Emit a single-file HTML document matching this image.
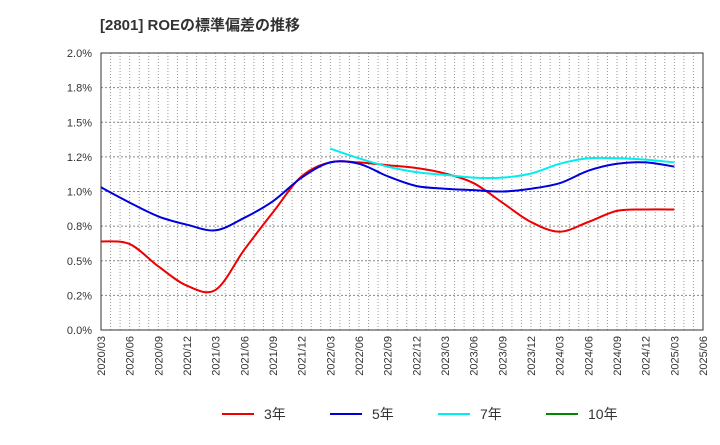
<!DOCTYPE html>
<html><head><meta charset="utf-8"><style>
body{margin:0;background:#fff;font-family:"Liberation Sans","Noto Sans CJK JP",sans-serif}
svg text{font-family:"Liberation Sans","Noto Sans CJK JP",sans-serif}
</style></head><body>
<svg id="c" width="720" height="440">
<text x="100" y="30" font-size="15" font-weight="bold" fill="#333">[2801]  ROEの標準偏差の推移</text>
<g id="grid"></g><g id="axes"></g><g id="series"></g><g id="legend"></g>
</svg>
<script>
const xLabels=["2020/03","2020/06","2020/09","2020/12","2021/03","2021/06","2021/09","2021/12","2022/03","2022/06","2022/09","2022/12","2023/03","2023/06","2023/09","2023/12","2024/03","2024/06","2024/09","2024/12","2025/03","2025/06"];
const yTicks=[0,0.25,0.5,0.75,1.0,1.25,1.5,1.75,2.0];
const yTickLabels=["0.0%","0.2%","0.5%","0.8%","1.0%","1.2%","1.5%","1.8%","2.0%"];
const s3=[0.64,0.62,0.46,0.32,0.29,0.58,0.85,1.11,1.21,1.21,1.19,1.17,1.13,1.06,0.92,0.78,0.71,0.78,0.86,0.87,0.87];
const s5=[1.03,0.92,0.82,0.76,0.72,0.81,0.93,1.10,1.21,1.20,1.11,1.04,1.02,1.01,1.00,1.02,1.06,1.15,1.20,1.21,1.18];
const s7=[null,null,null,null,null,null,null,null,1.31,1.24,1.18,1.14,1.12,1.10,1.10,1.13,1.20,1.24,1.24,1.23,1.21];
const s10=[];
const X0=101,X1=703,Y0=330,Y1=53;
const xs=i=>X0+(X1-X0)*i/(xLabels.length-1);
const ys=v=>Y0-(Y0-Y1)*v/2.0;
const NS="http://www.w3.org/2000/svg";
function mk(p,t,a){const e=document.createElementNS(NS,t);for(const k in a)e.setAttribute(k,a[k]);p.appendChild(e);return e;}
const grid=document.getElementById('grid'),axes=document.getElementById('axes'),ser=document.getElementById('series'),leg=document.getElementById('legend');
const nMonths=(xLabels.length-1)*3;
for(let m=1;m<nMonths;m++){const x=X0+(X1-X0)*m/nMonths;
const l=mk(grid,'line',{x1:x,x2:x,y1:Y1,y2:Y0,stroke:'#999','stroke-dasharray':'1,2','stroke-width':1});
}
yTicks.forEach((v,i)=>{const y=ys(v);
const l=mk(grid,'line',{x1:X0,x2:X1,y1:y,y2:y,stroke:'#888','stroke-dasharray':'2,2','stroke-width':1});

const t=mk(axes,'text',{x:92,y:y+4,'font-size':11,fill:'#333','text-anchor':'end'});t.textContent=yTickLabels[i];
});
const fr=mk(axes,'rect',{x:X0,y:Y1,width:X1-X0,height:Y0-Y1,fill:'none',stroke:'#333','stroke-width':1});

xLabels.forEach((lb,i)=>{const x=xs(i);
const t=mk(axes,'text',{x:x+4,y:Y0+6,'font-size':11,fill:'#333','text-anchor':'end',transform:`rotate(-90 ${x+4} ${Y0+6})`});t.textContent=lb;
});
function line(d,color,name){const P=[];d.forEach((v,i)=>{if(v!=null)P.push([xs(i),ys(v)]);});
if(!P.length)return;let s=`M${P[0][0].toFixed(1)},${P[0][1].toFixed(1)}`;
for(let i=0;i<P.length-1;i++){const p0=P[i-1]||P[i],p1=P[i],p2=P[i+1],p3=P[i+2]||p2;
const c1=[p1[0]+(p2[0]-p0[0])/6,p1[1]+(p2[1]-p0[1])/6],c2=[p2[0]-(p3[0]-p1[0])/6,p2[1]-(p3[1]-p1[1])/6];
s+=` C${c1[0].toFixed(1)},${c1[1].toFixed(1)} ${c2[0].toFixed(1)},${c2[1].toFixed(1)} ${p2[0].toFixed(1)},${p2[1].toFixed(1)}`;}
const p=mk(ser,'path',{d:s,fill:'none',stroke:color,'stroke-width':2,'stroke-linejoin':'round'});
}
line(s3,'#ee0000','series-3yr');line(s5,'#0000dd','series-5yr');line(s7,'#00eeee','series-7yr');line(s10,'#008800','series-10yr');
[['3年','#ee0000',222],['5年','#0000dd',330],['7年','#00eeee',438],['10年','#008800',546]].forEach(([n,c,x])=>{
const g=mk(leg,'g',{});
mk(g,'line',{x1:x,x2:x+32,y1:414,y2:414,stroke:c,'stroke-width':2});
const t=mk(g,'text',{x:x+42,y:419,'font-size':14,fill:'#333'});t.textContent=n;});
</script>
</body></html>
